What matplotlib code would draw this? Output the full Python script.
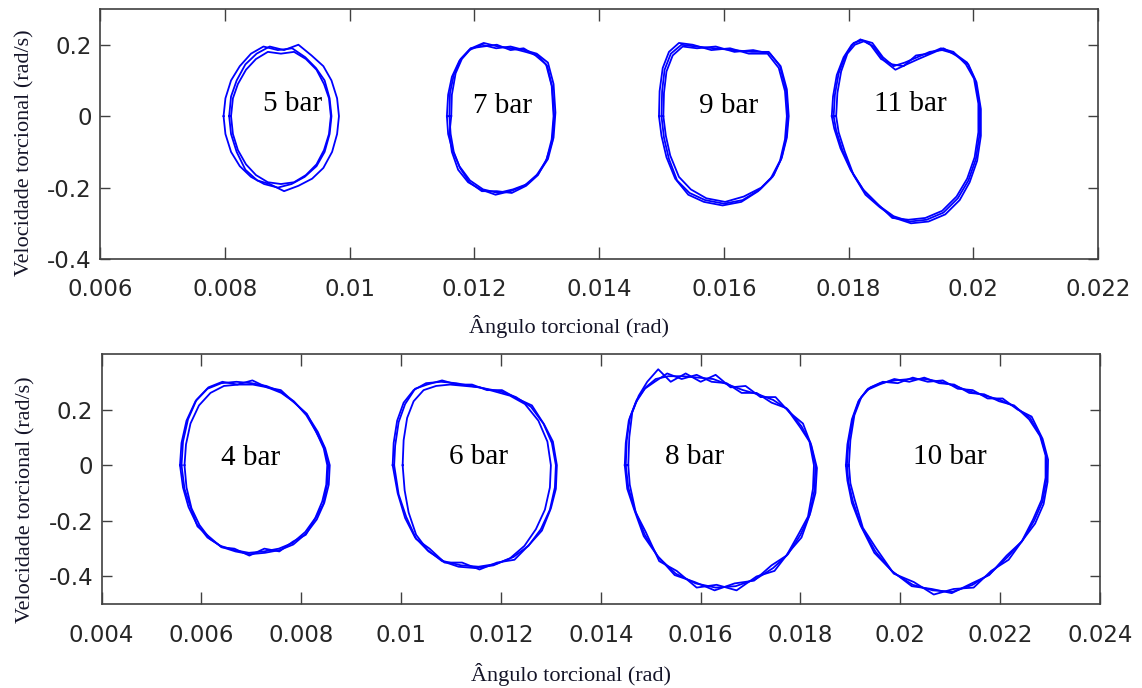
import matplotlib
matplotlib.use("Agg")
import matplotlib.pyplot as plt
import numpy as np

plt.rcParams['axes.unicode_minus'] = False

# ---------------- data (angle in mrad, velocity in rad/s) ----------------
# top panel
ang_5bar_a = [8.07, 8.10, 8.19, 8.33, 8.51, 8.72, 8.95, 9.18, 9.39, 9.58, 9.71, 9.80, 9.83, 9.80, 9.72, 9.58, 9.40, 9.18, 8.95, 8.72, 8.52, 8.33, 8.19, 8.10]
vel_5bar_a = [0.00, 0.055, 0.10, 0.145, 0.175, 0.195, 0.185, 0.20, 0.17, 0.14, 0.10, 0.05, 0.00, -0.05, -0.10, -0.145, -0.175, -0.195, -0.21, -0.19, -0.18, -0.15, -0.10, -0.05]
ang_5bar_b = [7.98, 8.01, 8.10, 8.24, 8.42, 8.62, 8.85, 9.08, 9.29, 9.46, 9.60, 9.68, 9.71, 9.68, 9.60, 9.47, 9.28, 9.07, 8.85, 8.63, 8.42, 8.24, 8.10, 8.01]
vel_5bar_b = [0.00, 0.05, 0.10, 0.14, 0.175, 0.195, 0.185, 0.19, 0.165, 0.135, 0.10, 0.05, 0.00, -0.05, -0.10, -0.14, -0.17, -0.19, -0.20, -0.19, -0.17, -0.14, -0.10, -0.05]
ang_5bar_c = [8.10, 8.13, 8.21, 8.34, 8.50, 8.69, 8.90, 9.11, 9.30, 9.47, 9.59, 9.67, 9.70, 9.67, 9.59, 9.47, 9.30, 9.11, 8.90, 8.69, 8.50, 8.34, 8.21, 8.13]
vel_5bar_c = [0.00, 0.05, 0.09, 0.13, 0.16, 0.18, 0.175, 0.18, 0.16, 0.13, 0.09, 0.05, 0.00, -0.05, -0.095, -0.135, -0.165, -0.185, -0.19, -0.185, -0.165, -0.135, -0.095, -0.05]

ang_7bar_a = [11.56, 11.58, 11.64, 11.76, 11.92, 12.12, 12.35, 12.58, 12.80, 13.00, 13.18, 13.27, 13.30, 13.27, 13.18, 13.03, 12.85, 12.62, 12.38, 12.14, 11.93, 11.76, 11.65, 11.58]
vel_7bar_a = [0.00, 0.06, 0.11, 0.155, 0.185, 0.20, 0.19, 0.195, 0.185, 0.175, 0.15, 0.09, 0.01, -0.06, -0.12, -0.16, -0.19, -0.205, -0.215, -0.205, -0.18, -0.14, -0.095, -0.05]
ang_7bar_b = [11.63, 11.64, 11.70, 11.80, 11.95, 12.15, 12.38, 12.60, 12.82, 13.02, 13.17, 13.25, 13.28, 13.25, 13.15, 13.00, 12.80, 12.58, 12.34, 12.10, 11.90, 11.74, 11.64, 11.60]
vel_7bar_b = [0.00, 0.06, 0.12, 0.16, 0.19, 0.205, 0.195, 0.19, 0.18, 0.17, 0.14, 0.08, 0.00, -0.07, -0.125, -0.165, -0.195, -0.21, -0.22, -0.205, -0.185, -0.15, -0.10, -0.05]
ang_7bar_c = [11.60, 11.61, 11.67, 11.78, 11.94, 12.14, 12.36, 12.58, 12.79, 12.98, 13.15, 13.24, 13.27, 13.24, 13.16, 13.02, 12.83, 12.60, 12.36, 12.12, 11.92, 11.77, 11.67, 11.62]
vel_7bar_c = [0.00, 0.065, 0.115, 0.16, 0.19, 0.195, 0.20, 0.185, 0.19, 0.17, 0.145, 0.085, 0.00, -0.065, -0.12, -0.165, -0.195, -0.215, -0.21, -0.21, -0.185, -0.145, -0.10, -0.05]

ang_9bar_a = [15.00, 15.01, 15.05, 15.15, 15.32, 15.55, 15.85, 16.15, 16.45, 16.72, 16.90, 17.00, 17.03, 17.00, 16.92, 16.78, 16.58, 16.30, 16.00, 15.70, 15.45, 15.25, 15.12, 15.04]
vel_9bar_a = [0.00, 0.07, 0.13, 0.175, 0.20, 0.195, 0.19, 0.185, 0.18, 0.18, 0.14, 0.07, 0.00, -0.06, -0.12, -0.17, -0.205, -0.235, -0.245, -0.235, -0.215, -0.18, -0.12, -0.06]
ang_9bar_b = [14.96, 14.97, 15.02, 15.12, 15.28, 15.50, 15.80, 16.10, 16.40, 16.70, 16.88, 16.98, 17.01, 16.98, 16.90, 16.75, 16.55, 16.28, 15.98, 15.68, 15.43, 15.22, 15.08, 15.00]
vel_9bar_b = [0.00, 0.07, 0.135, 0.18, 0.205, 0.20, 0.185, 0.19, 0.175, 0.175, 0.135, 0.07, 0.00, -0.065, -0.125, -0.175, -0.21, -0.24, -0.25, -0.24, -0.22, -0.175, -0.115, -0.055]
ang_9bar_c = [15.03, 15.04, 15.08, 15.18, 15.34, 15.57, 15.87, 16.17, 16.47, 16.74, 16.91, 17.01, 17.04, 17.01, 16.93, 16.80, 16.60, 16.32, 16.02, 15.72, 15.47, 15.28, 15.14, 15.07]
vel_9bar_c = [0.00, 0.065, 0.125, 0.17, 0.195, 0.19, 0.195, 0.18, 0.185, 0.175, 0.14, 0.075, 0.00, -0.06, -0.115, -0.165, -0.20, -0.225, -0.24, -0.23, -0.205, -0.17, -0.11, -0.055]

ang_11bar_a = [17.76, 17.78, 17.84, 17.95, 18.08, 18.22, 18.38, 18.55, 18.72, 18.90, 19.10, 19.30, 19.50, 19.70, 19.90, 20.03, 20.10, 20.10, 20.04, 19.92, 19.75, 19.52, 19.25, 18.98, 18.72, 18.48, 18.25, 18.05, 17.90, 17.80]
vel_11bar_a = [0.00, 0.06, 0.12, 0.17, 0.205, 0.213, 0.205, 0.165, 0.14, 0.15, 0.165, 0.18, 0.185, 0.175, 0.15, 0.10, 0.03, -0.05, -0.12, -0.18, -0.23, -0.27, -0.29, -0.295, -0.28, -0.25, -0.21, -0.155, -0.095, -0.04]
ang_11bar_b = [17.80, 17.82, 17.88, 17.98, 18.10, 18.25, 18.40, 18.57, 18.75, 18.93, 19.12, 19.32, 19.52, 19.72, 19.92, 20.05, 20.12, 20.12, 20.06, 19.94, 19.78, 19.55, 19.28, 19.00, 18.74, 18.50, 18.27, 18.08, 17.94, 17.84]
vel_11bar_b = [0.00, 0.065, 0.125, 0.175, 0.20, 0.21, 0.195, 0.155, 0.13, 0.145, 0.16, 0.175, 0.19, 0.17, 0.145, 0.095, 0.02, -0.055, -0.125, -0.185, -0.235, -0.275, -0.295, -0.30, -0.285, -0.255, -0.22, -0.165, -0.10, -0.045]
ang_11bar_c = [17.73, 17.75, 17.81, 17.92, 18.05, 18.19, 18.35, 18.52, 18.70, 18.88, 19.08, 19.28, 19.48, 19.68, 19.88, 20.01, 20.08, 20.08, 20.02, 19.90, 19.73, 19.50, 19.23, 18.96, 18.70, 18.46, 18.23, 18.03, 17.87, 17.77]
vel_11bar_c = [0.00, 0.055, 0.115, 0.165, 0.20, 0.215, 0.20, 0.16, 0.145, 0.14, 0.17, 0.175, 0.19, 0.18, 0.145, 0.105, 0.035, -0.045, -0.115, -0.175, -0.225, -0.265, -0.285, -0.29, -0.285, -0.245, -0.205, -0.15, -0.09, -0.035]

# bottom panel
ang_4bar_a = [5.57, 5.60, 5.70, 5.88, 6.12, 6.40, 6.70, 7.00, 7.30, 7.58, 7.85, 8.10, 8.30, 8.45, 8.52, 8.50, 8.42, 8.28, 8.08, 7.82, 7.55, 7.25, 6.95, 6.65, 6.38, 6.12, 5.90, 5.74, 5.63]
vel_4bar_a = [0.00, 0.08, 0.16, 0.23, 0.275, 0.295, 0.30, 0.295, 0.285, 0.265, 0.23, 0.18, 0.12, 0.06, 0.00, -0.07, -0.13, -0.19, -0.24, -0.28, -0.30, -0.31, -0.315, -0.305, -0.29, -0.26, -0.21, -0.15, -0.08]
ang_4bar_b = [5.66, 5.69, 5.78, 5.95, 6.18, 6.45, 6.74, 7.03, 7.32, 7.60, 7.87, 8.12, 8.33, 8.48, 8.57, 8.55, 8.46, 8.31, 8.10, 7.84, 7.57, 7.27, 6.97, 6.68, 6.42, 6.17, 5.96, 5.80, 5.70]
vel_4bar_b = [0.00, 0.075, 0.15, 0.215, 0.26, 0.285, 0.29, 0.29, 0.28, 0.26, 0.225, 0.18, 0.12, 0.06, 0.00, -0.07, -0.135, -0.195, -0.245, -0.285, -0.305, -0.315, -0.32, -0.31, -0.295, -0.265, -0.215, -0.155, -0.08]
ang_4bar_c = [5.60, 5.63, 5.73, 5.90, 6.14, 6.42, 6.72, 7.02, 7.31, 7.59, 7.86, 8.11, 8.31, 8.46, 8.54, 8.52, 8.44, 8.30, 8.09, 7.83, 7.56, 7.26, 6.96, 6.66, 6.40, 6.14, 5.92, 5.76, 5.66]
vel_4bar_c = [0.00, 0.085, 0.165, 0.235, 0.28, 0.30, 0.29, 0.305, 0.28, 0.27, 0.225, 0.185, 0.115, 0.065, 0.00, -0.065, -0.14, -0.185, -0.25, -0.275, -0.31, -0.30, -0.325, -0.30, -0.295, -0.255, -0.22, -0.14, -0.085]

ang_6bar_a = [9.83, 9.85, 9.92, 10.05, 10.25, 10.50, 10.80, 11.10, 11.40, 11.70, 12.00, 12.30, 12.60, 12.85, 13.02, 13.10, 13.08, 12.98, 12.80, 12.55, 12.25, 11.90, 11.55, 11.20, 10.85, 10.55, 10.28, 10.08, 9.93]
vel_6bar_a = [0.00, 0.08, 0.16, 0.225, 0.27, 0.295, 0.30, 0.295, 0.285, 0.275, 0.265, 0.245, 0.21, 0.15, 0.08, 0.00, -0.08, -0.16, -0.23, -0.29, -0.33, -0.355, -0.365, -0.36, -0.345, -0.31, -0.26, -0.19, -0.10]
ang_6bar_b = [10.03, 10.05, 10.12, 10.25, 10.45, 10.70, 10.98, 11.28, 11.58, 11.88, 12.18, 12.48, 12.75, 12.93, 13.00, 12.98, 12.88, 12.70, 12.47, 12.18, 11.85, 11.50, 11.15, 10.82, 10.53, 10.30, 10.15, 10.07]
vel_6bar_b = [0.00, 0.09, 0.17, 0.23, 0.27, 0.285, 0.29, 0.285, 0.28, 0.265, 0.25, 0.22, 0.16, 0.085, 0.00, -0.08, -0.16, -0.23, -0.29, -0.335, -0.36, -0.37, -0.365, -0.345, -0.305, -0.25, -0.17, -0.09]
ang_6bar_c = [9.86, 9.88, 9.95, 10.08, 10.28, 10.52, 10.82, 11.12, 11.42, 11.72, 12.02, 12.32, 12.62, 12.87, 13.04, 13.12, 13.10, 13.00, 12.82, 12.57, 12.27, 11.92, 11.57, 11.22, 10.87, 10.57, 10.30, 10.10, 9.95]
vel_6bar_c = [0.00, 0.07, 0.155, 0.22, 0.275, 0.29, 0.305, 0.29, 0.29, 0.27, 0.27, 0.24, 0.215, 0.145, 0.085, 0.00, -0.085, -0.155, -0.235, -0.285, -0.34, -0.35, -0.375, -0.35, -0.35, -0.30, -0.265, -0.185, -0.105]

ang_8bar_a = [14.50, 14.52, 14.58, 14.72, 14.90, 15.10, 15.35, 15.65, 15.95, 16.25, 16.55, 16.85, 17.15, 17.45, 17.75, 18.02, 18.20, 18.30, 18.28, 18.18, 18.00, 17.75, 17.45, 17.10, 16.70, 16.30, 15.90, 15.50, 15.15, 14.88, 14.68, 14.55]
vel_8bar_a = [0.00, 0.09, 0.17, 0.235, 0.28, 0.31, 0.32, 0.32, 0.315, 0.31, 0.29, 0.27, 0.255, 0.235, 0.20, 0.14, 0.08, 0.00, -0.09, -0.18, -0.25, -0.32, -0.37, -0.41, -0.435, -0.44, -0.425, -0.39, -0.33, -0.25, -0.16, -0.08]
ang_8bar_b = [14.55, 14.57, 14.63, 14.76, 14.93, 15.15, 15.40, 15.70, 16.00, 16.30, 16.60, 16.90, 17.20, 17.50, 17.78, 18.05, 18.22, 18.33, 18.30, 18.20, 18.02, 17.78, 17.48, 17.12, 16.72, 16.32, 15.92, 15.52, 15.17, 14.90, 14.70, 14.58]
vel_8bar_b = [0.00, 0.10, 0.19, 0.25, 0.30, 0.345, 0.30, 0.33, 0.30, 0.325, 0.28, 0.285, 0.245, 0.245, 0.19, 0.15, 0.07, -0.01, -0.10, -0.17, -0.26, -0.31, -0.38, -0.40, -0.45, -0.43, -0.44, -0.38, -0.345, -0.24, -0.17, -0.07]
ang_8bar_c = [14.48, 14.50, 14.56, 14.70, 14.88, 15.08, 15.33, 15.62, 15.92, 16.22, 16.52, 16.82, 17.12, 17.42, 17.72, 18.00, 18.18, 18.27, 18.25, 18.15, 17.97, 17.72, 17.42, 17.07, 16.68, 16.28, 15.88, 15.48, 15.13, 14.86, 14.66, 14.53]
vel_8bar_c = [0.00, 0.08, 0.16, 0.225, 0.275, 0.30, 0.33, 0.31, 0.325, 0.30, 0.295, 0.26, 0.26, 0.225, 0.205, 0.135, 0.085, 0.00, -0.085, -0.185, -0.245, -0.325, -0.36, -0.415, -0.425, -0.45, -0.42, -0.395, -0.325, -0.255, -0.155, -0.085]

ang_10bar_a = [18.93, 18.96, 19.05, 19.18, 19.35, 19.60, 19.90, 20.20, 20.50, 20.80, 21.10, 21.40, 21.70, 22.00, 22.30, 22.60, 22.82, 22.93, 22.93, 22.85, 22.68, 22.45, 22.15, 21.80, 21.45, 21.05, 20.65, 20.25, 19.85, 19.50, 19.22, 19.05, 18.96]
vel_10bar_a = [0.00, 0.08, 0.17, 0.235, 0.275, 0.295, 0.305, 0.31, 0.31, 0.30, 0.285, 0.265, 0.25, 0.235, 0.21, 0.17, 0.10, 0.03, -0.05, -0.13, -0.20, -0.27, -0.33, -0.39, -0.43, -0.455, -0.45, -0.43, -0.385, -0.31, -0.22, -0.13, -0.06]
ang_10bar_b = [18.97, 19.00, 19.08, 19.22, 19.40, 19.65, 19.95, 20.25, 20.55, 20.85, 21.15, 21.45, 21.75, 22.05, 22.35, 22.63, 22.85, 22.96, 22.95, 22.87, 22.70, 22.47, 22.17, 21.82, 21.47, 21.07, 20.67, 20.27, 19.87, 19.52, 19.25, 19.08, 19.00]
vel_10bar_b = [0.00, 0.09, 0.18, 0.245, 0.28, 0.30, 0.295, 0.315, 0.30, 0.305, 0.275, 0.27, 0.24, 0.24, 0.20, 0.175, 0.095, 0.02, -0.06, -0.14, -0.21, -0.265, -0.34, -0.38, -0.44, -0.445, -0.465, -0.42, -0.39, -0.30, -0.225, -0.12, -0.065]
ang_10bar_c = [18.91, 18.94, 19.03, 19.16, 19.33, 19.58, 19.88, 20.18, 20.48, 20.78, 21.08, 21.38, 21.68, 21.98, 22.28, 22.58, 22.80, 22.91, 22.91, 22.83, 22.66, 22.43, 22.13, 21.78, 21.43, 21.03, 20.63, 20.23, 19.83, 19.48, 19.20, 19.03, 18.94]
vel_10bar_c = [0.00, 0.075, 0.165, 0.23, 0.27, 0.29, 0.31, 0.30, 0.315, 0.295, 0.29, 0.26, 0.255, 0.23, 0.215, 0.165, 0.105, 0.035, -0.045, -0.125, -0.195, -0.275, -0.325, -0.395, -0.425, -0.46, -0.445, -0.435, -0.38, -0.315, -0.215, -0.135, -0.055]

# labels
top_labels = ["5 bar", "7 bar", "9 bar", "11 bar"]
top_label_x = [0.00908, 0.01245, 0.01607, 0.01899]
top_label_y = [0.034, 0.028, 0.028, 0.033]
bot_labels = ["4 bar", "6 bar", "8 bar", "10 bar"]
bot_label_x = [0.00699, 0.01154, 0.01587, 0.0210]
bot_label_y = [0.026, 0.028, 0.028, 0.031]

top_xticks = [0.006, 0.008, 0.010, 0.012, 0.014, 0.016, 0.018, 0.020, 0.022]
top_xticklabels = ["0.006", "0.008", "0.01", "0.012", "0.014", "0.016", "0.018", "0.02", "0.022"]
top_yticks = [-0.4, -0.2, 0.0, 0.2]
top_yticklabels = ["-0.4", "-0.2", "0", "0.2"]
bot_xticks = [0.004, 0.006, 0.008, 0.010, 0.012, 0.014, 0.016, 0.018, 0.020, 0.022, 0.024]
bot_xticklabels = ["0.004", "0.006", "0.008", "0.01", "0.012", "0.014", "0.016", "0.018", "0.02", "0.022", "0.024"]
bot_yticks = [-0.4, -0.2, 0.0, 0.2]
bot_yticklabels = ["-0.4", "-0.2", "0", "0.2"]

top_loops = [(ang_5bar_a, vel_5bar_a), (ang_5bar_b, vel_5bar_b), (ang_5bar_c, vel_5bar_c),
             (ang_7bar_a, vel_7bar_a), (ang_7bar_b, vel_7bar_b), (ang_7bar_c, vel_7bar_c),
             (ang_9bar_a, vel_9bar_a), (ang_9bar_b, vel_9bar_b), (ang_9bar_c, vel_9bar_c),
             (ang_11bar_a, vel_11bar_a), (ang_11bar_b, vel_11bar_b), (ang_11bar_c, vel_11bar_c)]
bot_loops = [(ang_4bar_a, vel_4bar_a), (ang_4bar_b, vel_4bar_b), (ang_4bar_c, vel_4bar_c),
             (ang_6bar_a, vel_6bar_a), (ang_6bar_b, vel_6bar_b), (ang_6bar_c, vel_6bar_c),
             (ang_8bar_a, vel_8bar_a), (ang_8bar_b, vel_8bar_b), (ang_8bar_c, vel_8bar_c),
             (ang_10bar_a, vel_10bar_a), (ang_10bar_b, vel_10bar_b), (ang_10bar_c, vel_10bar_c)]

LINE_COLOR = (0.0, 0.0, 1.0)
TICK_FONT = "DejaVu Sans"
SERIF = "Liberation Serif"
LABEL_COLOR = "#141428"

fig = plt.figure(figsize=(11.42, 6.88), dpi=100)
ax1 = fig.add_axes([0.0876, 0.6235, 0.874, 0.3634])
ax2 = fig.add_axes([0.0890, 0.1217, 0.8742, 0.3638])


def draw(ax, loops, labels, lx, ly, xlim, ylim, xt, xtl, yt, ytl, ylab_y, xlab_y):
    for ang, vel in loops:
        x = np.array(ang + ang[:1]) * 1e-3
        y = np.array(vel + vel[:1])
        ax.plot(x, y, color=LINE_COLOR, lw=1.3)
    for t, x, y in zip(labels, lx, ly):
        ax.text(x, y, t, ha="center", va="center", fontsize=21, family=SERIF, color="black")
    ax.set_xlim(*xlim)
    ax.set_ylim(*ylim)
    ax.set_xticks(xt)
    ax.set_xticklabels(xtl)
    ax.set_yticks(yt)
    ax.set_yticklabels(ytl)
    for lab in ax.get_xticklabels() + ax.get_yticklabels():
        lab.set_family(TICK_FONT)
    ax.tick_params(direction="in", top=True, right=True, labelsize=16.5,
                   color="#404040", labelcolor="#262626", width=1.0)
    ax.tick_params(axis="x", length=8.5, pad=14)
    ax.tick_params(axis="y", length=7.5, pad=6)
    for s in ax.spines.values():
        s.set_color("#404040")
        s.set_linewidth(1.2)
    ax.set_ylabel("Velocidade torcional (rad/s)", family=SERIF, fontsize=16, color=LABEL_COLOR)
    ax.set_xlabel("Ângulo torcional (rad)", family=SERIF, fontsize=16, color=LABEL_COLOR)
    ax.yaxis.set_label_coords(-0.066, ylab_y)
    ax.xaxis.set_label_coords(0.47, xlab_y)


draw(ax1, top_loops, top_labels, top_label_x, top_label_y, (0.006, 0.022), (-0.4, 0.3),
     top_xticks, top_xticklabels, top_yticks, top_yticklabels, 0.424, -0.224)
draw(ax2, bot_loops, bot_labels, bot_label_x, bot_label_y, (0.004, 0.024), (-0.5, 0.4),
     bot_xticks, bot_xticklabels, bot_yticks, bot_yticklabels, 0.417, -0.234)

fig.savefig("out.png", dpi=100, facecolor="white")
